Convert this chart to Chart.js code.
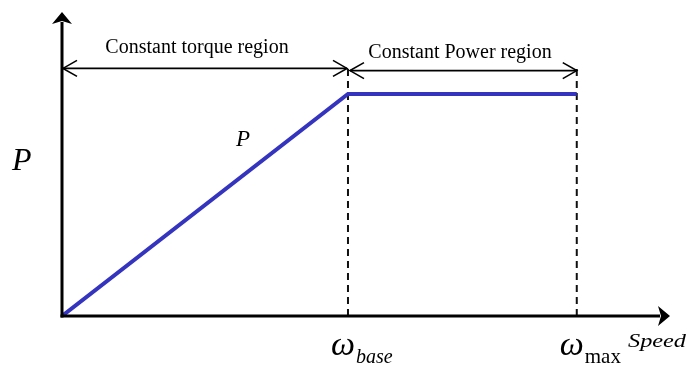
<!DOCTYPE html>
<html>
<head>
<meta charset="utf-8">
<script src="https://cdn.jsdelivr.net/npm/chart.js@4.4.1/dist/chart.umd.min.js"></script>
<style>
html,body{margin:0;padding:0;background:#fff;}
#wrap{width:688px;height:367px;position:relative;}
</style>
</head>
<body>
<div id="wrap"><canvas id="c"></canvas></div>
<script>
// ---- data ----
const speedPoints = [0, 1, 1.8];          // 0, ω_base, ω_max (normalised)
const powerPoints = [0, 1, 1];            // P rises linearly then constant
const markSpeeds  = [1, 1.8];             // ω_base, ω_max dashed markers
const markTop     = 1.117;                // top of dashed markers
const regionLabels = ['Constant torque region', 'Constant Power region'];
const regionSpans  = [[0, 1], [1, 1.8]];
const axisLabelY = 'P';
const axisLabelX = 'Speed';
const curveLabel = 'P';
const tickNames = [['ω','base',true], ['ω','max',false]];

const lineData = speedPoints.map((s,i)=>({x:s,y:powerPoints[i]}));
const dashSets = markSpeeds.map(s=>({
  data:[{x:s,y:0},{x:s,y:markTop}],
  borderColor:'#111', borderWidth:2, borderDash:[7,5], pointRadius:0, fill:false
}));

const deco = {
  id:'deco',
  afterDatasetsDraw(chart){
    const {ctx, scales:{x,y}} = chart;
    const x0 = x.getPixelForValue(0), y0 = y.getPixelForValue(0);
    const xEnd = x.getPixelForValue(x.max), yEnd = y.getPixelForValue(y.max);
    ctx.save();
    // axes
    ctx.strokeStyle='#000'; ctx.fillStyle='#000'; ctx.lineWidth=3;
    ctx.beginPath(); ctx.moveTo(x0,y0+1.5); ctx.lineTo(x0,yEnd+10); ctx.stroke();
    ctx.beginPath(); ctx.moveTo(x0-1.5,y0); ctx.lineTo(xEnd-10,y0); ctx.stroke();
    // arrow heads
    ctx.beginPath(); ctx.moveTo(x0,yEnd); ctx.lineTo(x0-10,yEnd+12); ctx.lineTo(x0,yEnd+9); ctx.lineTo(x0+10,yEnd+12); ctx.closePath(); ctx.fill();
    ctx.beginPath(); ctx.moveTo(xEnd,y0); ctx.lineTo(xEnd-12,y0-10); ctx.lineTo(xEnd-9,y0); ctx.lineTo(xEnd-12,y0+10); ctx.closePath(); ctx.fill();
    // region double arrows
    const rowY = [1.115, 1.105];
    ctx.lineWidth=1.6;
    regionSpans.forEach((sp,i)=>{
      const a = x.getPixelForValue(sp[0]) + (i?2:1), b = x.getPixelForValue(sp[1]) - (i?0:1);
      const yy = y.getPixelForValue(rowY[i]);
      ctx.beginPath(); ctx.moveTo(a,yy); ctx.lineTo(b,yy); ctx.stroke();
      ctx.beginPath(); ctx.moveTo(a+14,yy-8); ctx.lineTo(a,yy); ctx.lineTo(a+14,yy+8); ctx.stroke();
      ctx.beginPath(); ctx.moveTo(b-14,yy-8); ctx.lineTo(b,yy); ctx.lineTo(b-14,yy+8); ctx.stroke();
      ctx.font='20px "Liberation Serif", "Times New Roman", serif';
      ctx.textAlign='center'; ctx.textBaseline='alphabetic';
      ctx.fillText(regionLabels[i], i ? 460 : 197, yy - (i?13:15));
    });
    // labels
    ctx.textAlign='left';
    ctx.font='italic 32px "Liberation Serif", serif';
    ctx.fillText(axisLabelY, 12, 170);
    ctx.font='italic 23px "Liberation Serif", serif';
    ctx.fillText(curveLabel, 236, 146);
    // Speed (wide italic)
    ctx.font='italic 19px "Liberation Serif", serif';
    const sw = ctx.measureText(axisLabelX).width;
    ctx.save(); ctx.translate(628, 347); ctx.scale(58/sw, 1);
    ctx.fillText(axisLabelX, 0, 0); ctx.restore();
    tickNames.forEach((t,i)=>{
      const px = x.getPixelForValue(markSpeeds[i]);
      ctx.font='italic 34px "Liberation Serif", serif';
      ctx.fillText(t[0], px-17, 355);
      const w = ctx.measureText(t[0]).width;
      ctx.font=(t[2]?'italic ':'')+(t[2]?'20px':'21px')+' "Liberation Serif", serif';
      ctx.fillText(t[1], px-17+w+1, 363);
    });
    ctx.restore();
  }
};

new Chart(document.getElementById('c'), {
  type:'line',
  data:{datasets:[
    {data:lineData, borderColor:'#3434bf', borderWidth:4, pointRadius:0, fill:false, tension:0, borderCapStyle:'butt', borderJoinStyle:'miter'},
    ...dashSets
  ]},
  options:{
    responsive:true, maintainAspectRatio:false, animation:false,
    layout:{padding:{left:62,right:18,top:12,bottom:51}},
    plugins:{legend:{display:false},tooltip:{enabled:false}},
    scales:{
      x:{type:'linear',min:0,max:2.126,display:false},
      y:{type:'linear',min:0,max:1.369,display:false}
    }
  },
  plugins:[deco]
});
</script>
</body>
</html>
